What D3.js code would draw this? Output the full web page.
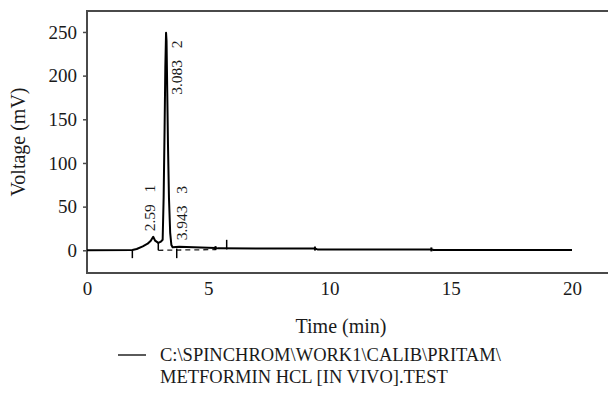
<!DOCTYPE html>
<html>
<head>
<meta charset="utf-8">
<script src="https://cdn.jsdelivr.net/npm/d3@7"></script>
<style>
  body { margin: 0; background: #fff; }
  text { font-family: "Liberation Serif", "DejaVu Serif", serif; fill: #1a1a1a; }
</style>
</head>
<body>
<svg width="608" height="406"></svg>
<script>
// chromatogram trace
const times = [0, 1.87, 2.05, 2.3, 2.5, 2.63, 2.73, 2.81, 2.94, 3.05, 3.12, 3.16, 3.2, 3.23, 3.26,
    3.28, 3.31, 3.34, 3.38, 3.43, 3.48, 3.53, 3.8, 4.4, 5.3, 5.4, 9.4, 9.5, 14.2, 14.3, 20];
const volts = [0, 0.3, 1.5, 4.5, 7.5, 11, 15.5, 11, 8.5, 10, 12, 60, 140, 210, 249,
    240, 180, 120, 60, 20, 6, 3.5, 4, 3.5, 2.5, 2.2, 2, 1, 1, 0.3, 0.3];

// peak annotations
const peakTimes = ["2.59", "3.083", "3.943"];
const peakIds = ["1", "2", "3"];
const labelT = [2.6, 3.71, 3.92];
const labelV = [21.8, 178, 11.5];

// integration marks: [time, from mV, to mV]
const markT = [1.87, 2.94, 3.7, 5.76];
const markFrom = [-9, 0, -9, 1];
const markTo = [0, 8.5, 2, 12];
const dotT = [5.3, 9.4, 14.2];
const baseT = [2.94, 5.3];

const xTicks = [0, 5, 10, 15, 20];
const yTicks = [0, 50, 100, 150, 200, 250];

const legendLines = ["C:\\SPINCHROM\\WORK1\\CALIB\\PRITAM\\", "METFORMIN HCL [IN VIVO].TEST"];

const svg = d3.select("svg"),
    width = +svg.attr("width"),
    height = +svg.attr("height");

const x = d3.scaleLinear().domain([0, 20]).range([87, 572]);
const y = d3.scaleLinear().domain([-26, 274]).range([273, 11]);

const axisColor = "#4a4a4a";

// frame: left, top, bottom
svg.append("path")
    .attr("d", `M${width},11H87V273H${width}`)
    .attr("fill", "none")
    .attr("stroke", axisColor)
    .attr("stroke-width", 2);

svg.append("g")
    .attr("transform", "translate(87,0)")
    .call(d3.axisLeft(y).tickValues(yTicks).tickSize(4).tickPadding(6))
    .call(g => g.select(".domain").remove())
    .call(g => g.selectAll("line").attr("stroke", axisColor).attr("stroke-width", 1.5))
    .call(g => g.selectAll("text").attr("font-size", 19).attr("font-family", null).attr("fill", null));

svg.append("g")
    .attr("transform", "translate(0,273)")
    .call(d3.axisBottom(x).tickValues(xTicks).tickSize(0).tickPadding(9))
    .call(g => g.select(".domain").remove())
    .call(g => g.selectAll("text").attr("font-size", 19).attr("font-family", null).attr("fill", null));

svg.append("text")
    .attr("x", 341).attr("y", 333)
    .attr("text-anchor", "middle")
    .attr("font-size", 20)
    .text("Time (min)");

svg.append("text")
    .attr("transform", "translate(18,142) rotate(-90)")
    .attr("text-anchor", "middle")
    .attr("dy", "0.35em")
    .attr("font-size", 20)
    .text("Voltage (mV)");

// dashed baseline under peaks
svg.append("line")
    .attr("x1", x(baseT[0])).attr("x2", x(baseT[1]))
    .attr("y1", y(0)).attr("y2", y(0.8))
    .attr("stroke", "#222")
    .attr("stroke-width", 1.3)
    .attr("stroke-dasharray", "5,4");

// trace
const pts = times.map((t, i) => [t, volts[i]]);
svg.append("path")
    .datum(pts)
    .attr("fill", "none")
    .attr("stroke", "#000")
    .attr("stroke-width", 2)
    .attr("stroke-linejoin", "round")
    .attr("d", d3.line().x(d => x(d[0])).y(d => y(d[1])));

// integration marks
svg.append("g")
    .selectAll("line")
    .data(markT)
    .join("line")
    .attr("x1", d => x(d)).attr("x2", d => x(d))
    .attr("y1", (d, i) => y(markFrom[i])).attr("y2", (d, i) => y(markTo[i]))
    .attr("stroke", "#000")
    .attr("stroke-width", 1.5);

svg.append("g")
    .selectAll("line")
    .data(dotT)
    .join("line")
    .attr("x1", d => x(d)).attr("x2", d => x(d))
    .attr("y1", d => y(volts[times.indexOf(d)] ?? 1) + 2)
    .attr("y2", d => y(volts[times.indexOf(d)] ?? 1) - 2)
    .attr("stroke", "#000")
    .attr("stroke-width", 2);

// peak labels
svg.append("g")
    .selectAll("text")
    .data(peakTimes)
    .join("text")
    .attr("transform", (d, i) => `translate(${x(labelT[i])},${y(labelV[i])}) rotate(-90)`)
    .attr("dy", "0.35em")
    .attr("font-size", 15.5)
    .style("white-space", "pre")
    .text((d, i) => d + "   " + peakIds[i]);

// legend
svg.append("line")
    .attr("x1", 118).attr("x2", 146)
    .attr("y1", 355).attr("y2", 355)
    .attr("stroke", "#000")
    .attr("stroke-width", 1.3);

svg.append("g")
    .selectAll("text")
    .data(legendLines)
    .join("text")
    .attr("x", 160)
    .attr("y", (d, i) => 355 + i * 22)
    .attr("dy", "0.35em")
    .attr("font-size", 18.5)
    .text(d => d);
</script>
</body>
</html>
